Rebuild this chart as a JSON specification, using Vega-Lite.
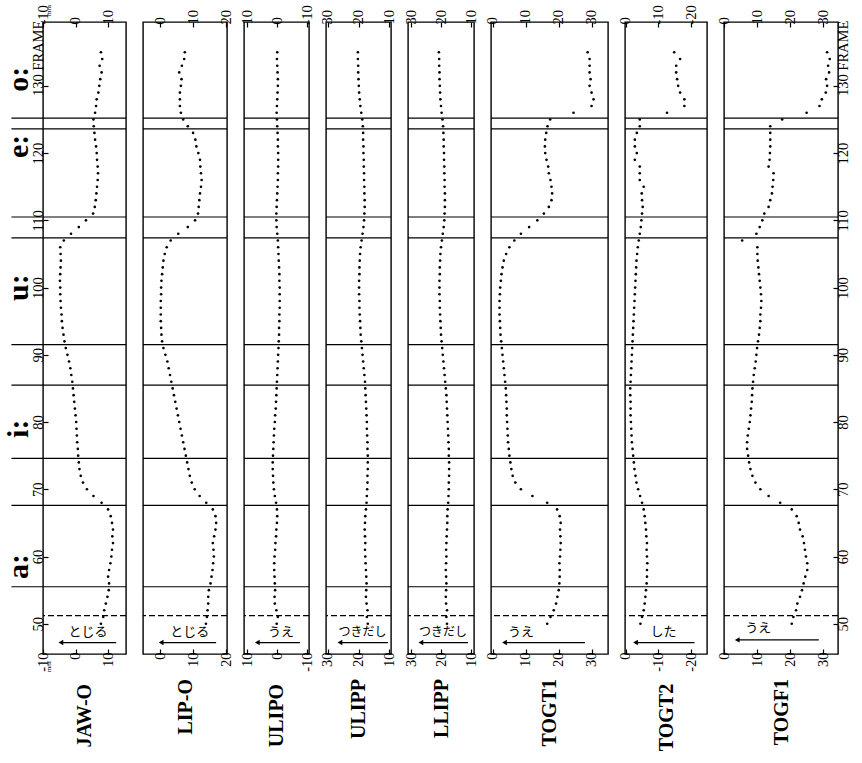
{
  "$schema": "https://vega.github.io/schema/vega-lite/v6.json",
  "background": "white",
  "padding": {"left": 3, "top": 3, "right": 0, "bottom": 0},
  "bounds": "flush",
  "spacing": 17,
  "config": {
    "view": {"stroke": "black", "strokeWidth": 1.4},
    "axis": {
      "domain": false, "grid": false,
      "labelFont": "Liberation Serif", "labelFontSize": 14.5, "labelColor": "black",
      "labelAngle": 270, "labelFlush": false, "labelOverlap": false,
      "tickColor": "black", "tickWidth": 1.2, "tickSize": -5, "labelPadding": 3,
      "titleFont": "Liberation Serif", "titleFontSize": 20, "titleFontWeight": "bold", "titleColor": "black",
      "titleAngle": 270, "titleAlign": "right", "titleBaseline": "middle", "titlePadding": 12
    },
    "axisX": {"labelExpr": "replace(datum.label, '−', '-')"}
  },
  "datasets": {
    "traj": [
      {"frame":50,"JAW":7.8,"LIP":13.9,"ULIPO":0.2,"ULIPP":17.0,"LLIPP":18.0,"TOGT1":16.5,"TOGT2":-4.5,"TOGF1":20.5},
      {"frame":51,"JAW":8.5,"LIP":14.2,"ULIPO":-0.2,"ULIPP":17.3,"LLIPP":18.2,"TOGT1":17.5,"TOGT2":-5.0,"TOGF1":21.0},
      {"frame":52,"JAW":8.8,"LIP":14.4,"ULIPO":0.3,"ULIPP":17.1,"LLIPP":18.0,"TOGT1":18.5,"TOGT2":-5.5,"TOGF1":21.8},
      {"frame":53,"JAW":9.3,"LIP":14.6,"ULIPO":0.8,"ULIPP":17.4,"LLIPP":18.3,"TOGT1":19.2,"TOGT2":-5.8,"TOGF1":22.2},
      {"frame":54,"JAW":9.8,"LIP":14.6,"ULIPO":0.9,"ULIPP":17.6,"LLIPP":18.4,"TOGT1":19.6,"TOGT2":-6.0,"TOGF1":23.0},
      {"frame":55,"JAW":10.2,"LIP":14.8,"ULIPO":0.7,"ULIPP":17.5,"LLIPP":18.3,"TOGT1":20.0,"TOGT2":-6.2,"TOGF1":23.6},
      {"frame":56,"JAW":10.3,"LIP":15.3,"ULIPO":0.8,"ULIPP":17.4,"LLIPP":18.2,"TOGT1":20.2,"TOGT2":-6.4,"TOGF1":24.1},
      {"frame":57,"JAW":10.0,"LIP":15.6,"ULIPO":0.9,"ULIPP":17.5,"LLIPP":18.3,"TOGT1":20.3,"TOGT2":-6.5,"TOGF1":24.6},
      {"frame":58,"JAW":10.3,"LIP":15.9,"ULIPO":1.0,"ULIPP":17.6,"LLIPP":18.4,"TOGT1":20.3,"TOGT2":-6.5,"TOGF1":25.2},
      {"frame":59,"JAW":10.7,"LIP":16.1,"ULIPO":1.0,"ULIPP":17.7,"LLIPP":18.3,"TOGT1":20.2,"TOGT2":-6.6,"TOGF1":25.2},
      {"frame":60,"JAW":11.0,"LIP":16.3,"ULIPO":0.9,"ULIPP":17.8,"LLIPP":18.2,"TOGT1":20.4,"TOGT2":-6.5,"TOGF1":24.8},
      {"frame":61,"JAW":11.2,"LIP":16.2,"ULIPO":0.7,"ULIPP":17.9,"LLIPP":18.3,"TOGT1":20.5,"TOGT2":-6.4,"TOGF1":24.5},
      {"frame":62,"JAW":11.5,"LIP":16.0,"ULIPO":0.6,"ULIPP":17.8,"LLIPP":18.2,"TOGT1":20.6,"TOGT2":-6.5,"TOGF1":24.2},
      {"frame":63,"JAW":11.3,"LIP":16.4,"ULIPO":0.4,"ULIPP":17.9,"LLIPP":18.1,"TOGT1":20.5,"TOGT2":-6.3,"TOGF1":23.8},
      {"frame":64,"JAW":11.5,"LIP":16.8,"ULIPO":0.3,"ULIPP":18.0,"LLIPP":18.0,"TOGT1":20.4,"TOGT2":-6.2,"TOGF1":23.0},
      {"frame":65,"JAW":11.2,"LIP":17.0,"ULIPO":0.1,"ULIPP":17.9,"LLIPP":17.9,"TOGT1":20.6,"TOGT2":-6.0,"TOGF1":22.6},
      {"frame":66,"JAW":10.8,"LIP":16.8,"ULIPO":0.0,"ULIPP":17.8,"LLIPP":17.9,"TOGT1":20.3,"TOGT2":-5.8,"TOGF1":22.0},
      {"frame":67,"JAW":10.0,"LIP":16.0,"ULIPO":0.1,"ULIPP":17.6,"LLIPP":17.8,"TOGT1":19.5,"TOGT2":-5.5,"TOGF1":20.5},
      {"frame":68,"JAW":8.0,"LIP":14.0,"ULIPO":0.4,"ULIPP":17.4,"LLIPP":17.6,"TOGT1":16.5,"TOGT2":-5.0,"TOGF1":17.0},
      {"frame":69,"JAW":5.5,"LIP":12.0,"ULIPO":0.8,"ULIPP":17.3,"LLIPP":17.5,"TOGT1":12.0,"TOGT2":-4.4,"TOGF1":13.5},
      {"frame":70,"JAW":3.5,"LIP":10.5,"ULIPO":1.1,"ULIPP":17.2,"LLIPP":17.4,"TOGT1":8.5,"TOGT2":-3.8,"TOGF1":11.0},
      {"frame":71,"JAW":2.3,"LIP":9.6,"ULIPO":1.3,"ULIPP":17.1,"LLIPP":17.4,"TOGT1":6.8,"TOGT2":-3.3,"TOGF1":9.5},
      {"frame":72,"JAW":1.6,"LIP":9.0,"ULIPO":1.4,"ULIPP":17.1,"LLIPP":17.3,"TOGT1":6.0,"TOGT2":-3.0,"TOGF1":8.6},
      {"frame":73,"JAW":1.2,"LIP":8.6,"ULIPO":1.5,"ULIPP":17.0,"LLIPP":17.3,"TOGT1":5.6,"TOGT2":-2.7,"TOGF1":8.0},
      {"frame":74,"JAW":1.0,"LIP":8.2,"ULIPO":1.5,"ULIPP":17.0,"LLIPP":17.3,"TOGT1":5.3,"TOGT2":-2.5,"TOGF1":7.6},
      {"frame":75,"JAW":0.8,"LIP":7.8,"ULIPO":1.4,"ULIPP":17.0,"LLIPP":17.4,"TOGT1":5.0,"TOGT2":-2.3,"TOGF1":7.3},
      {"frame":76,"JAW":0.7,"LIP":7.4,"ULIPO":1.3,"ULIPP":17.1,"LLIPP":17.4,"TOGT1":4.8,"TOGT2":-2.1,"TOGF1":7.0},
      {"frame":77,"JAW":0.5,"LIP":7.0,"ULIPO":1.2,"ULIPP":17.1,"LLIPP":17.5,"TOGT1":4.6,"TOGT2":-1.9,"TOGF1":7.0},
      {"frame":78,"JAW":0.4,"LIP":6.6,"ULIPO":1.1,"ULIPP":17.2,"LLIPP":17.6,"TOGT1":4.5,"TOGT2":-1.8,"TOGF1":7.2},
      {"frame":79,"JAW":0.3,"LIP":6.2,"ULIPO":1.0,"ULIPP":17.3,"LLIPP":17.7,"TOGT1":4.4,"TOGT2":-1.7,"TOGF1":7.5},
      {"frame":80,"JAW":0.2,"LIP":5.8,"ULIPO":0.8,"ULIPP":17.3,"LLIPP":17.8,"TOGT1":4.3,"TOGT2":-1.6,"TOGF1":7.8},
      {"frame":81,"JAW":0.0,"LIP":5.4,"ULIPO":0.7,"ULIPP":17.4,"LLIPP":17.9,"TOGT1":4.2,"TOGT2":-1.5,"TOGF1":8.0},
      {"frame":82,"JAW":-0.2,"LIP":5.0,"ULIPO":0.5,"ULIPP":17.5,"LLIPP":18.0,"TOGT1":4.2,"TOGT2":-1.5,"TOGF1":8.2},
      {"frame":83,"JAW":-0.4,"LIP":4.6,"ULIPO":0.4,"ULIPP":17.6,"LLIPP":18.1,"TOGT1":4.1,"TOGT2":-1.5,"TOGF1":8.4},
      {"frame":84,"JAW":-0.6,"LIP":4.2,"ULIPO":0.3,"ULIPP":17.7,"LLIPP":18.2,"TOGT1":4.0,"TOGT2":-1.4,"TOGF1":8.5},
      {"frame":85,"JAW":-0.8,"LIP":3.8,"ULIPO":0.2,"ULIPP":17.8,"LLIPP":18.4,"TOGT1":3.9,"TOGT2":-1.4,"TOGF1":8.6},
      {"frame":86,"JAW":-1.0,"LIP":3.4,"ULIPO":0.1,"ULIPP":17.9,"LLIPP":18.6,"TOGT1":3.7,"TOGT2":-1.5,"TOGF1":8.8},
      {"frame":87,"JAW":-1.3,"LIP":3.0,"ULIPO":0.0,"ULIPP":18.1,"LLIPP":18.8,"TOGT1":3.5,"TOGT2":-1.6,"TOGF1":9.0},
      {"frame":88,"JAW":-1.6,"LIP":2.6,"ULIPO":-0.1,"ULIPP":18.3,"LLIPP":19.0,"TOGT1":3.3,"TOGT2":-1.7,"TOGF1":9.3},
      {"frame":89,"JAW":-2.0,"LIP":2.2,"ULIPO":-0.2,"ULIPP":18.5,"LLIPP":19.2,"TOGT1":3.1,"TOGT2":-1.8,"TOGF1":9.6},
      {"frame":90,"JAW":-2.5,"LIP":1.6,"ULIPO":-0.3,"ULIPP":18.7,"LLIPP":19.4,"TOGT1":2.9,"TOGT2":-1.9,"TOGF1":9.8},
      {"frame":91,"JAW":-3.0,"LIP":1.0,"ULIPO":-0.4,"ULIPP":18.9,"LLIPP":19.6,"TOGT1":2.7,"TOGT2":-2.0,"TOGF1":10.0},
      {"frame":92,"JAW":-3.4,"LIP":0.6,"ULIPO":-0.5,"ULIPP":19.1,"LLIPP":19.8,"TOGT1":2.5,"TOGT2":-2.1,"TOGF1":10.3},
      {"frame":93,"JAW":-3.7,"LIP":0.4,"ULIPO":-0.6,"ULIPP":19.3,"LLIPP":20.0,"TOGT1":2.3,"TOGT2":-2.2,"TOGF1":10.6},
      {"frame":94,"JAW":-4.0,"LIP":0.3,"ULIPO":-0.6,"ULIPP":19.4,"LLIPP":20.1,"TOGT1":2.2,"TOGT2":-2.3,"TOGF1":10.8},
      {"frame":95,"JAW":-4.2,"LIP":0.2,"ULIPO":-0.7,"ULIPP":19.5,"LLIPP":20.2,"TOGT1":2.1,"TOGT2":-2.4,"TOGF1":11.0},
      {"frame":96,"JAW":-4.3,"LIP":0.2,"ULIPO":-0.7,"ULIPP":19.6,"LLIPP":20.3,"TOGT1":2.0,"TOGT2":-2.5,"TOGF1":11.0},
      {"frame":97,"JAW":-4.5,"LIP":0.2,"ULIPO":-0.8,"ULIPP":19.7,"LLIPP":20.4,"TOGT1":2.0,"TOGT2":-2.6,"TOGF1":11.2},
      {"frame":98,"JAW":-4.6,"LIP":0.2,"ULIPO":-0.8,"ULIPP":19.7,"LLIPP":20.4,"TOGT1":2.0,"TOGT2":-2.7,"TOGF1":11.3},
      {"frame":99,"JAW":-4.7,"LIP":0.3,"ULIPO":-0.8,"ULIPP":19.8,"LLIPP":20.5,"TOGT1":2.1,"TOGT2":-2.8,"TOGF1":11.2},
      {"frame":100,"JAW":-4.7,"LIP":0.3,"ULIPO":-0.8,"ULIPP":19.8,"LLIPP":20.5,"TOGT1":2.2,"TOGT2":-2.9,"TOGF1":11.0},
      {"frame":101,"JAW":-4.8,"LIP":0.4,"ULIPO":-0.7,"ULIPP":19.8,"LLIPP":20.5,"TOGT1":2.4,"TOGT2":-3.0,"TOGF1":10.8},
      {"frame":102,"JAW":-4.7,"LIP":0.6,"ULIPO":-0.7,"ULIPP":19.7,"LLIPP":20.4,"TOGT1":2.6,"TOGT2":-3.1,"TOGF1":10.6},
      {"frame":103,"JAW":-4.6,"LIP":0.8,"ULIPO":-0.6,"ULIPP":19.7,"LLIPP":20.4,"TOGT1":2.9,"TOGT2":-3.2,"TOGF1":10.4},
      {"frame":104,"JAW":-4.5,"LIP":1.0,"ULIPO":-0.5,"ULIPP":19.6,"LLIPP":20.3,"TOGT1":3.3,"TOGT2":-3.3,"TOGF1":10.2},
      {"frame":105,"JAW":-4.6,"LIP":1.4,"ULIPO":-0.4,"ULIPP":19.5,"LLIPP":20.2,"TOGT1":4.0,"TOGT2":-3.5,"TOGF1":10.1},
      {"frame":106,"JAW":-4.7,"LIP":2.0,"ULIPO":-0.3,"ULIPP":19.3,"LLIPP":20.0,"TOGT1":5.0,"TOGT2":-3.7,"TOGF1":10.1},
      {"frame":107,"JAW":-3.6,"LIP":3.2,"ULIPO":-0.2,"ULIPP":19.0,"LLIPP":19.7,"TOGT1":6.5,"TOGT2":-4.0,"TOGF1":5.5},
      {"frame":108,"JAW":-1.4,"LIP":5.5,"ULIPO":0.0,"ULIPP":18.7,"LLIPP":19.4,"TOGT1":8.5,"TOGT2":-4.3,"TOGF1":9.8},
      {"frame":109,"JAW":1.0,"LIP":8.4,"ULIPO":0.2,"ULIPP":18.4,"LLIPP":19.1,"TOGT1":11.0,"TOGT2":-4.6,"TOGF1":10.8},
      {"frame":110,"JAW":3.2,"LIP":10.6,"ULIPO":0.3,"ULIPP":18.2,"LLIPP":18.9,"TOGT1":13.5,"TOGT2":-4.8,"TOGF1":11.6},
      {"frame":111,"JAW":5.4,"LIP":11.5,"ULIPO":0.3,"ULIPP":18.1,"LLIPP":18.8,"TOGT1":15.5,"TOGT2":-5.0,"TOGF1":12.2},
      {"frame":112,"JAW":5.9,"LIP":11.7,"ULIPO":0.2,"ULIPP":18.0,"LLIPP":18.7,"TOGT1":17.0,"TOGT2":-5.2,"TOGF1":13.5},
      {"frame":113,"JAW":6.2,"LIP":11.9,"ULIPO":0.1,"ULIPP":18.0,"LLIPP":18.7,"TOGT1":17.8,"TOGT2":-5.0,"TOGF1":14.0},
      {"frame":114,"JAW":6.4,"LIP":12.1,"ULIPO":0.0,"ULIPP":18.1,"LLIPP":18.7,"TOGT1":18.0,"TOGT2":-4.9,"TOGF1":14.5},
      {"frame":115,"JAW":6.6,"LIP":12.4,"ULIPO":-0.1,"ULIPP":18.1,"LLIPP":18.8,"TOGT1":17.8,"TOGT2":-5.5,"TOGF1":14.7},
      {"frame":116,"JAW":6.8,"LIP":12.6,"ULIPO":-0.2,"ULIPP":18.2,"LLIPP":18.8,"TOGT1":17.5,"TOGT2":-4.3,"TOGF1":14.9},
      {"frame":117,"JAW":6.9,"LIP":12.4,"ULIPO":-0.2,"ULIPP":18.2,"LLIPP":18.9,"TOGT1":17.0,"TOGT2":-4.3,"TOGF1":15.0},
      {"frame":118,"JAW":6.8,"LIP":12.2,"ULIPO":-0.3,"ULIPP":18.3,"LLIPP":18.9,"TOGT1":16.8,"TOGT2":-4.3,"TOGF1":13.5},
      {"frame":119,"JAW":6.6,"LIP":12.1,"ULIPO":-0.3,"ULIPP":18.3,"LLIPP":19.0,"TOGT1":16.3,"TOGT2":-2.8,"TOGF1":13.8},
      {"frame":120,"JAW":6.5,"LIP":11.6,"ULIPO":-0.3,"ULIPP":18.4,"LLIPP":19.0,"TOGT1":15.9,"TOGT2":-3.4,"TOGF1":13.9},
      {"frame":121,"JAW":6.3,"LIP":11.0,"ULIPO":-0.2,"ULIPP":18.4,"LLIPP":19.1,"TOGT1":15.8,"TOGT2":-2.8,"TOGF1":14.0},
      {"frame":122,"JAW":6.0,"LIP":10.7,"ULIPO":-0.2,"ULIPP":18.5,"LLIPP":19.1,"TOGT1":15.9,"TOGT2":-2.8,"TOGF1":14.0},
      {"frame":123,"JAW":5.8,"LIP":10.0,"ULIPO":-0.1,"ULIPP":18.5,"LLIPP":19.2,"TOGT1":16.2,"TOGT2":-3.4,"TOGF1":14.0},
      {"frame":124,"JAW":5.6,"LIP":8.4,"ULIPO":0.0,"ULIPP":18.6,"LLIPP":19.3,"TOGT1":16.6,"TOGT2":-4.3,"TOGF1":14.0},
      {"frame":125,"JAW":5.5,"LIP":7.0,"ULIPO":0.1,"ULIPP":18.8,"LLIPP":19.5,"TOGT1":17.4,"TOGT2":-4.3,"TOGF1":17.6},
      {"frame":126,"JAW":6.0,"LIP":6.3,"ULIPO":0.2,"ULIPP":19.1,"LLIPP":19.8,"TOGT1":24.5,"TOGT2":-12.6,"TOGF1":25.0},
      {"frame":127,"JAW":6.3,"LIP":6.0,"ULIPO":0.1,"ULIPP":19.4,"LLIPP":20.0,"TOGT1":30.0,"TOGT2":-17.9,"TOGF1":28.9},
      {"frame":128,"JAW":6.5,"LIP":6.0,"ULIPO":0.0,"ULIPP":19.6,"LLIPP":20.2,"TOGT1":30.6,"TOGT2":-17.9,"TOGF1":29.6},
      {"frame":129,"JAW":7.0,"LIP":6.0,"ULIPO":-0.1,"ULIPP":19.8,"LLIPP":20.3,"TOGT1":30.0,"TOGT2":-16.6,"TOGF1":30.8},
      {"frame":130,"JAW":7.3,"LIP":6.3,"ULIPO":-0.2,"ULIPP":19.9,"LLIPP":20.4,"TOGT1":29.4,"TOGT2":-16.0,"TOGF1":31.2},
      {"frame":131,"JAW":7.6,"LIP":6.5,"ULIPO":-0.2,"ULIPP":20.0,"LLIPP":20.5,"TOGT1":29.7,"TOGT2":-15.7,"TOGF1":30.9},
      {"frame":132,"JAW":8.0,"LIP":5.8,"ULIPO":-0.1,"ULIPP":20.1,"LLIPP":20.5,"TOGT1":29.4,"TOGT2":-15.4,"TOGF1":31.8},
      {"frame":133,"JAW":7.4,"LIP":6.6,"ULIPO":0.0,"ULIPP":20.1,"LLIPP":20.6,"TOGT1":29.4,"TOGT2":-15.4,"TOGF1":31.5},
      {"frame":134,"JAW":8.2,"LIP":7.3,"ULIPO":0.1,"ULIPP":20.2,"LLIPP":20.6,"TOGT1":29.4,"TOGT2":-16.6,"TOGF1":32.0},
      {"frame":135,"JAW":7.8,"LIP":7.5,"ULIPO":0.0,"ULIPP":20.2,"LLIPP":20.7,"TOGT1":28.8,"TOGT2":-14.8,"TOGF1":31.2}
    ],
    "bounds": [
      {"frame":51.2,"kind":"dashed"},
      {"frame":55.5,"kind":"solid"},
      {"frame":67.6,"kind":"solid"},
      {"frame":74.6,"kind":"solid"},
      {"frame":85.5,"kind":"solid"},
      {"frame":91.5,"kind":"solid"},
      {"frame":107.4,"kind":"solid"},
      {"frame":110.5,"kind":"solid"},
      {"frame":123.6,"kind":"solid"},
      {"frame":125.2,"kind":"solid"}
    ],
    "vowels": [
      {"label":"a:","frame":58.5},
      {"label":"i:","frame":79},
      {"label":"u:","frame":100},
      {"label":"e:","frame":121},
      {"label":"o:","frame":131}
    ],
    "notes": [
      {"panel":"JAW-O","text":"とじる"},
      {"panel":"LIP-O","text":"とじる"},
      {"panel":"ULIPO","text":"うえ"},
      {"panel":"ULIPP","text":"つきだし"},
      {"panel":"LLIPP","text":"つきだし"},
      {"panel":"TOGT1","text":"うえ"},
      {"panel":"TOGT2","text":"した"},
      {"panel":"TOGF1","text":"うえ"}
    ]
  },
  "hconcat": [
    {
      "width": 83, "height": 632,
      "layer": [
        {"data":{"name":"bounds"},"transform":[{"filter":"datum.kind === 'solid'"}],
         "mark":{"type":"rule","color":"black","strokeWidth":1.2},
         "encoding":{
           "y":{"field":"frame","type":"quantitative","scale":{"domain":[45.5,139.5],"nice":false,"zero":false},"axis":null},
           "x":{"datum":-19.7,"type":"quantitative","scale":{"domain":[-10,15.5],"nice":false,"zero":false},"axis":null},
           "x2":{"datum":15.5}}},
        {"data":{"name":"bounds"},"transform":[{"filter":"datum.kind === 'dashed'"}],
         "mark":{"type":"rule","color":"black","strokeWidth":1.2,"strokeDash":[6,3]},
         "encoding":{"y":{"field":"frame","type":"quantitative","scale":{"domain":[45.5,139.5],"nice":false,"zero":false},"axis":null}}},
        {"data":{"name":"traj"},
         "mark":{"type":"point","filled":true,"color":"black","size":7,"opacity":1},
         "encoding":{
           "x":{"field":"JAW","type":"quantitative","scale":{"domain":[-10,15.5],"nice":false,"zero":false},
                "axis":{"orient":"bottom","values":[-10,0,10],"title":"JAW-O"}},
           "y":{"field":"frame","type":"quantitative","scale":{"domain":[45.5,139.5],"nice":false,"zero":false},
                "axis":{"orient":"left","values":[50,60,70,80,90,100,110,120,130],"title":null,
                        "labelExpr":"datum.value === 130 ? '130 FRAME' : datum.label",
                        "labelOffset":{"condition":{"test":"datum.value === 130","value":-28},"value":0}}}}},
        {"data":{"name":"notes"},"transform":[{"filter":"datum.panel === 'JAW-O'"}],
         "mark":{"type":"rule","color":"black","strokeWidth":1.3},
         "encoding":{
           "x":{"datum":-4.5,"type":"quantitative","scale":{"domain":[-10,15.5],"nice":false,"zero":false},
                "axis":{"orient":"top","values":[-10,0,10],"title":null}},
           "x2":{"datum":12.5},
           "y":{"datum":47.2,"type":"quantitative","scale":{"domain":[45.5,139.5],"nice":false,"zero":false},"axis":null}}},
        {"data":{"name":"notes"},"transform":[{"filter":"datum.panel === 'JAW-O'"}],
         "mark":{"type":"point","shape":"triangle-left","filled":true,"color":"black","size":30,"opacity":1},
         "encoding":{"x":{"datum":-4.5,"axis":null},"y":{"datum":47.2,"axis":null}}},
        {"data":{"name":"notes"},"transform":[{"filter":"datum.panel === 'JAW-O'"}],
         "mark":{"type":"text","font":"Noto Sans CJK JP","fontSize":13,"align":"center","baseline":"middle","color":"black"},
         "encoding":{"text":{"field":"text"},"x":{"datum":3.8,"axis":null},"y":{"datum":48.7,"axis":null}}},
        {"data":{"name":"vowels"},
         "mark":{"type":"text","angle":270,"font":"Liberation Serif","fontSize":30,"fontWeight":"bold","align":"center","baseline":"middle","color":"black"},
         "encoding":{"text":{"field":"label"},"x":{"datum":-17.4,"axis":null},"y":{"field":"frame","type":"quantitative","axis":null}}},
        {"data":{"name":"notes"},"transform":[{"filter":"datum.panel === 'JAW-O'"}],
         "mark":{"type":"text","angle":270,"font":"Liberation Serif","fontSize":7,"align":"center","baseline":"middle","color":"black"},
         "encoding":{"text":{"value":"mm"},"x":{"datum":-8.2,"axis":null},"y":{"datum":141.2,"axis":null}}},
        {"data":{"name":"notes"},"transform":[{"filter":"datum.panel === 'JAW-O'"}],
         "mark":{"type":"text","angle":270,"font":"Liberation Serif","fontSize":7,"align":"center","baseline":"middle","color":"black"},
         "encoding":{"text":{"value":"mm"},"x":{"datum":-8.2,"axis":null},"y":{"datum":43.6,"axis":null}}}
      ],
      "resolve":{"axis":{"x":"independent","y":"independent"}}
    },
    {
      "width": 84, "height": 632,
      "layer": [
        {"data":{"name":"bounds"},"transform":[{"filter":"datum.kind === 'solid'"}],
         "mark":{"type":"rule","color":"black","strokeWidth":1.2},
         "encoding":{"y":{"field":"frame","type":"quantitative","scale":{"domain":[45.5,139.5],"nice":false,"zero":false},"axis":null}}},
        {"data":{"name":"bounds"},"transform":[{"filter":"datum.kind === 'dashed'"}],
         "mark":{"type":"rule","color":"black","strokeWidth":1.2,"strokeDash":[6,3]},
         "encoding":{"y":{"field":"frame","type":"quantitative","scale":{"domain":[45.5,139.5],"nice":false,"zero":false},"axis":null}}},
        {"data":{"name":"traj"},
         "mark":{"type":"point","filled":true,"color":"black","size":7,"opacity":1},
         "encoding":{
           "x":{"field":"LIP","type":"quantitative","scale":{"domain":[-5.2,20.3],"nice":false,"zero":false},
                "axis":{"orient":"bottom","values":[0,10,20],"title":"LIP-O"}},
           "y":{"field":"frame","type":"quantitative","scale":{"domain":[45.5,139.5],"nice":false,"zero":false},"axis":null}}},
        {"data":{"name":"notes"},"transform":[{"filter":"datum.panel === 'LIP-O'"}],
         "mark":{"type":"rule","color":"black","strokeWidth":1.3},
         "encoding":{
           "x":{"datum":0.3,"type":"quantitative","scale":{"domain":[-5.2,20.3],"nice":false,"zero":false},
                "axis":{"orient":"top","values":[0,10,20],"title":null}},
           "x2":{"datum":17},
           "y":{"datum":47.2,"type":"quantitative","scale":{"domain":[45.5,139.5],"nice":false,"zero":false},"axis":null}}},
        {"data":{"name":"notes"},"transform":[{"filter":"datum.panel === 'LIP-O'"}],
         "mark":{"type":"point","shape":"triangle-left","filled":true,"color":"black","size":30,"opacity":1},
         "encoding":{"x":{"datum":0.3,"axis":null},"y":{"datum":47.2,"axis":null}}},
        {"data":{"name":"notes"},"transform":[{"filter":"datum.panel === 'LIP-O'"}],
         "mark":{"type":"text","font":"Noto Sans CJK JP","fontSize":13,"align":"center","baseline":"middle","color":"black"},
         "encoding":{"text":{"field":"text"},"x":{"datum":9,"axis":null},"y":{"datum":48.7,"axis":null}}}
      ],
      "resolve":{"axis":{"x":"independent","y":"independent"}}
    },
    {
      "width": 65, "height": 632,
      "layer": [
        {"data":{"name":"bounds"},"transform":[{"filter":"datum.kind === 'solid'"}],
         "mark":{"type":"rule","color":"black","strokeWidth":1.2},
         "encoding":{"y":{"field":"frame","type":"quantitative","scale":{"domain":[45.5,139.5],"nice":false,"zero":false},"axis":null}}},
        {"data":{"name":"bounds"},"transform":[{"filter":"datum.kind === 'dashed'"}],
         "mark":{"type":"rule","color":"black","strokeWidth":1.2,"strokeDash":[6,3]},
         "encoding":{"y":{"field":"frame","type":"quantitative","scale":{"domain":[45.5,139.5],"nice":false,"zero":false},"axis":null}}},
        {"data":{"name":"traj"},
         "mark":{"type":"point","filled":true,"color":"black","size":7,"opacity":1},
         "encoding":{
           "x":{"field":"ULIPO","type":"quantitative","scale":{"domain":[-10.5,11],"reverse":true,"nice":false,"zero":false},
                "axis":{"orient":"bottom","values":[-10,0,10],"title":"ULIPO"}},
           "y":{"field":"frame","type":"quantitative","scale":{"domain":[45.5,139.5],"nice":false,"zero":false},"axis":null}}},
        {"data":{"name":"notes"},"transform":[{"filter":"datum.panel === 'ULIPO'"}],
         "mark":{"type":"rule","color":"black","strokeWidth":1.3},
         "encoding":{
           "x":{"datum":6.6,"type":"quantitative","scale":{"domain":[-10.5,11],"reverse":true,"nice":false,"zero":false},
                "axis":{"orient":"top","values":[-10,0,10],"title":null}},
           "x2":{"datum":-7.5},
           "y":{"datum":47.2,"type":"quantitative","scale":{"domain":[45.5,139.5],"nice":false,"zero":false},"axis":null}}},
        {"data":{"name":"notes"},"transform":[{"filter":"datum.panel === 'ULIPO'"}],
         "mark":{"type":"point","shape":"triangle-left","filled":true,"color":"black","size":30,"opacity":1},
         "encoding":{"x":{"datum":6.6,"axis":null},"y":{"datum":47.2,"axis":null}}},
        {"data":{"name":"notes"},"transform":[{"filter":"datum.panel === 'ULIPO'"}],
         "mark":{"type":"text","font":"Noto Sans CJK JP","fontSize":13,"align":"center","baseline":"middle","color":"black"},
         "encoding":{"text":{"field":"text"},"x":{"datum":-1.2,"axis":null},"y":{"datum":48.7,"axis":null}}}
      ],
      "resolve":{"axis":{"x":"independent","y":"independent"}}
    },
    {
      "width": 65, "height": 632,
      "layer": [
        {"data":{"name":"bounds"},"transform":[{"filter":"datum.kind === 'solid'"}],
         "mark":{"type":"rule","color":"black","strokeWidth":1.2},
         "encoding":{"y":{"field":"frame","type":"quantitative","scale":{"domain":[45.5,139.5],"nice":false,"zero":false},"axis":null}}},
        {"data":{"name":"bounds"},"transform":[{"filter":"datum.kind === 'dashed'"}],
         "mark":{"type":"rule","color":"black","strokeWidth":1.2,"strokeDash":[6,3]},
         "encoding":{"y":{"field":"frame","type":"quantitative","scale":{"domain":[45.5,139.5],"nice":false,"zero":false},"axis":null}}},
        {"data":{"name":"traj"},
         "mark":{"type":"point","filled":true,"color":"black","size":7,"opacity":1},
         "encoding":{
           "x":{"field":"ULIPP","type":"quantitative","scale":{"domain":[9.5,30.5],"reverse":true,"nice":false,"zero":false},
                "axis":{"orient":"bottom","values":[10,20,30],"title":"ULIPP"}},
           "y":{"field":"frame","type":"quantitative","scale":{"domain":[45.5,139.5],"nice":false,"zero":false},"axis":null}}},
        {"data":{"name":"notes"},"transform":[{"filter":"datum.panel === 'ULIPP'"}],
         "mark":{"type":"rule","color":"black","strokeWidth":1.3},
         "encoding":{
           "x":{"datum":26,"type":"quantitative","scale":{"domain":[9.5,30.5],"reverse":true,"nice":false,"zero":false},
                "axis":{"orient":"top","values":[10,20,30],"title":null}},
           "x2":{"datum":10.5},
           "y":{"datum":47.2,"type":"quantitative","scale":{"domain":[45.5,139.5],"nice":false,"zero":false},"axis":null}}},
        {"data":{"name":"notes"},"transform":[{"filter":"datum.panel === 'ULIPP'"}],
         "mark":{"type":"point","shape":"triangle-left","filled":true,"color":"black","size":30,"opacity":1},
         "encoding":{"x":{"datum":26,"axis":null},"y":{"datum":47.2,"axis":null}}},
        {"data":{"name":"notes"},"transform":[{"filter":"datum.panel === 'ULIPP'"}],
         "mark":{"type":"text","font":"Noto Sans CJK JP","fontSize":12,"align":"center","baseline":"middle","color":"black"},
         "encoding":{"text":{"field":"text"},"x":{"datum":18.7,"axis":null},"y":{"datum":48.7,"axis":null}}}
      ],
      "resolve":{"axis":{"x":"independent","y":"independent"}}
    },
    {
      "width": 66, "height": 632,
      "layer": [
        {"data":{"name":"bounds"},"transform":[{"filter":"datum.kind === 'solid'"}],
         "mark":{"type":"rule","color":"black","strokeWidth":1.2},
         "encoding":{"y":{"field":"frame","type":"quantitative","scale":{"domain":[45.5,139.5],"nice":false,"zero":false},"axis":null}}},
        {"data":{"name":"bounds"},"transform":[{"filter":"datum.kind === 'dashed'"}],
         "mark":{"type":"rule","color":"black","strokeWidth":1.2,"strokeDash":[6,3]},
         "encoding":{"y":{"field":"frame","type":"quantitative","scale":{"domain":[45.5,139.5],"nice":false,"zero":false},"axis":null}}},
        {"data":{"name":"traj"},
         "mark":{"type":"point","filled":true,"color":"black","size":7,"opacity":1},
         "encoding":{
           "x":{"field":"LLIPP","type":"quantitative","scale":{"domain":[9,31],"reverse":true,"nice":false,"zero":false},
                "axis":{"orient":"bottom","values":[10,20,30],"title":"LLIPP"}},
           "y":{"field":"frame","type":"quantitative","scale":{"domain":[45.5,139.5],"nice":false,"zero":false},"axis":null}}},
        {"data":{"name":"notes"},"transform":[{"filter":"datum.panel === 'LLIPP'"}],
         "mark":{"type":"rule","color":"black","strokeWidth":1.3},
         "encoding":{
           "x":{"datum":26.7,"type":"quantitative","scale":{"domain":[9,31],"reverse":true,"nice":false,"zero":false},
                "axis":{"orient":"top","values":[10,20,30],"title":null}},
           "x2":{"datum":11},
           "y":{"datum":47.2,"type":"quantitative","scale":{"domain":[45.5,139.5],"nice":false,"zero":false},"axis":null}}},
        {"data":{"name":"notes"},"transform":[{"filter":"datum.panel === 'LLIPP'"}],
         "mark":{"type":"point","shape":"triangle-left","filled":true,"color":"black","size":30,"opacity":1},
         "encoding":{"x":{"datum":26.7,"axis":null},"y":{"datum":47.2,"axis":null}}},
        {"data":{"name":"notes"},"transform":[{"filter":"datum.panel === 'LLIPP'"}],
         "mark":{"type":"text","font":"Noto Sans CJK JP","fontSize":12,"align":"center","baseline":"middle","color":"black"},
         "encoding":{"text":{"field":"text"},"x":{"datum":19.3,"axis":null},"y":{"datum":48.7,"axis":null}}}
      ],
      "resolve":{"axis":{"x":"independent","y":"independent"}}
    },
    {
      "width": 117, "height": 632,
      "layer": [
        {"data":{"name":"bounds"},"transform":[{"filter":"datum.kind === 'solid'"}],
         "mark":{"type":"rule","color":"black","strokeWidth":1.2},
         "encoding":{"y":{"field":"frame","type":"quantitative","scale":{"domain":[45.5,139.5],"nice":false,"zero":false},"axis":null}}},
        {"data":{"name":"bounds"},"transform":[{"filter":"datum.kind === 'dashed'"}],
         "mark":{"type":"rule","color":"black","strokeWidth":1.2,"strokeDash":[6,3]},
         "encoding":{"y":{"field":"frame","type":"quantitative","scale":{"domain":[45.5,139.5],"nice":false,"zero":false},"axis":null}}},
        {"data":{"name":"traj"},
         "mark":{"type":"point","filled":true,"color":"black","size":7,"opacity":1},
         "encoding":{
           "x":{"field":"TOGT1","type":"quantitative","scale":{"domain":[-0.6,35],"nice":false,"zero":false},
                "axis":{"orient":"bottom","values":[0,10,20,30],"title":"TOGT1"}},
           "y":{"field":"frame","type":"quantitative","scale":{"domain":[45.5,139.5],"nice":false,"zero":false},"axis":null}}},
        {"data":{"name":"notes"},"transform":[{"filter":"datum.panel === 'TOGT1'"}],
         "mark":{"type":"rule","color":"black","strokeWidth":1.3},
         "encoding":{
           "x":{"datum":3.5,"type":"quantitative","scale":{"domain":[-0.6,35],"nice":false,"zero":false},
                "axis":{"orient":"top","values":[0,10,20,30],"title":null}},
           "x2":{"datum":28},
           "y":{"datum":47.2,"type":"quantitative","scale":{"domain":[45.5,139.5],"nice":false,"zero":false},"axis":null}}},
        {"data":{"name":"notes"},"transform":[{"filter":"datum.panel === 'TOGT1'"}],
         "mark":{"type":"point","shape":"triangle-left","filled":true,"color":"black","size":30,"opacity":1},
         "encoding":{"x":{"datum":3.5,"axis":null},"y":{"datum":47.2,"axis":null}}},
        {"data":{"name":"notes"},"transform":[{"filter":"datum.panel === 'TOGT1'"}],
         "mark":{"type":"text","font":"Noto Sans CJK JP","fontSize":13,"align":"center","baseline":"middle","color":"black"},
         "encoding":{"text":{"field":"text"},"x":{"datum":8.5,"axis":null},"y":{"datum":48.7,"axis":null}}}
      ],
      "resolve":{"axis":{"x":"independent","y":"independent"}}
    },
    {
      "width": 82, "height": 632,
      "layer": [
        {"data":{"name":"bounds"},"transform":[{"filter":"datum.kind === 'solid'"}],
         "mark":{"type":"rule","color":"black","strokeWidth":1.2},
         "encoding":{"y":{"field":"frame","type":"quantitative","scale":{"domain":[45.5,139.5],"nice":false,"zero":false},"axis":null}}},
        {"data":{"name":"bounds"},"transform":[{"filter":"datum.kind === 'dashed'"}],
         "mark":{"type":"rule","color":"black","strokeWidth":1.2,"strokeDash":[6,3]},
         "encoding":{"y":{"field":"frame","type":"quantitative","scale":{"domain":[45.5,139.5],"nice":false,"zero":false},"axis":null}}},
        {"data":{"name":"traj"},
         "mark":{"type":"point","filled":true,"color":"black","size":7,"opacity":1},
         "encoding":{
           "x":{"field":"TOGT2","type":"quantitative","scale":{"domain":[-24.8,0.2],"reverse":true,"nice":false,"zero":false},
                "axis":{"orient":"bottom","values":[-20,-10,0],"title":"TOGT2"}},
           "y":{"field":"frame","type":"quantitative","scale":{"domain":[45.5,139.5],"nice":false,"zero":false},"axis":null}}},
        {"data":{"name":"notes"},"transform":[{"filter":"datum.panel === 'TOGT2'"}],
         "mark":{"type":"rule","color":"black","strokeWidth":1.3},
         "encoding":{
           "x":{"datum":-3,"type":"quantitative","scale":{"domain":[-24.8,0.2],"reverse":true,"nice":false,"zero":false},
                "axis":{"orient":"top","values":[-20,-10,0],"title":null}},
           "x2":{"datum":-21},
           "y":{"datum":47.2,"type":"quantitative","scale":{"domain":[45.5,139.5],"nice":false,"zero":false},"axis":null}}},
        {"data":{"name":"notes"},"transform":[{"filter":"datum.panel === 'TOGT2'"}],
         "mark":{"type":"point","shape":"triangle-left","filled":true,"color":"black","size":30,"opacity":1},
         "encoding":{"x":{"datum":-3,"axis":null},"y":{"datum":47.2,"axis":null}}},
        {"data":{"name":"notes"},"transform":[{"filter":"datum.panel === 'TOGT2'"}],
         "mark":{"type":"text","font":"Noto Sans CJK JP","fontSize":13,"align":"center","baseline":"middle","color":"black"},
         "encoding":{"text":{"field":"text"},"x":{"datum":-11.5,"axis":null},"y":{"datum":48.7,"axis":null}}}
      ],
      "resolve":{"axis":{"x":"independent","y":"independent"}}
    },
    {
      "width": 114, "height": 632,
      "layer": [
        {"data":{"name":"bounds"},"transform":[{"filter":"datum.kind === 'solid'"}],
         "mark":{"type":"rule","color":"black","strokeWidth":1.2},
         "encoding":{"y":{"field":"frame","type":"quantitative","scale":{"domain":[45.5,139.5],"nice":false,"zero":false},"axis":null}}},
        {"data":{"name":"bounds"},"transform":[{"filter":"datum.kind === 'dashed'"}],
         "mark":{"type":"rule","color":"black","strokeWidth":1.2,"strokeDash":[6,3]},
         "encoding":{"y":{"field":"frame","type":"quantitative","scale":{"domain":[45.5,139.5],"nice":false,"zero":false},"axis":null}}},
        {"data":{"name":"traj"},
         "mark":{"type":"point","filled":true,"color":"black","size":7,"opacity":1},
         "encoding":{
           "x":{"field":"TOGF1","type":"quantitative","scale":{"domain":[0,34.5],"nice":false,"zero":false},
                "axis":{"orient":"bottom","values":[0,10,20,30],"title":"TOGF1"}},
           "y":{"field":"frame","type":"quantitative","scale":{"domain":[45.5,139.5],"nice":false,"zero":false},
                "axis":{"orient":"right","values":[50,60,70,80,90,100,110,120,130],"title":null,
                        "labelExpr":"datum.value === 130 ? '130 FRAME' : datum.label",
                        "labelOffset":{"condition":{"test":"datum.value === 130","value":-28},"value":0}}}}},
        {"data":{"name":"notes"},"transform":[{"filter":"datum.panel === 'TOGF1'"}],
         "mark":{"type":"rule","color":"black","strokeWidth":1.3},
         "encoding":{
           "x":{"datum":4,"type":"quantitative","scale":{"domain":[0,34.5],"nice":false,"zero":false},
                "axis":{"orient":"top","values":[0,10,20,30],"title":null}},
           "x2":{"datum":28.7},
           "y":{"datum":47.6,"type":"quantitative","scale":{"domain":[45.5,139.5],"nice":false,"zero":false},"axis":null}}},
        {"data":{"name":"notes"},"transform":[{"filter":"datum.panel === 'TOGF1'"}],
         "mark":{"type":"point","shape":"triangle-left","filled":true,"color":"black","size":30,"opacity":1},
         "encoding":{"x":{"datum":4,"axis":null},"y":{"datum":47.6,"axis":null}}},
        {"data":{"name":"notes"},"transform":[{"filter":"datum.panel === 'TOGF1'"}],
         "mark":{"type":"text","font":"Noto Sans CJK JP","fontSize":13,"align":"center","baseline":"middle","color":"black"},
         "encoding":{"text":{"field":"text"},"x":{"datum":10.4,"axis":null},"y":{"datum":49.4,"axis":null}}}
      ],
      "resolve":{"axis":{"x":"independent","y":"independent"}}
    }
  ]
}
